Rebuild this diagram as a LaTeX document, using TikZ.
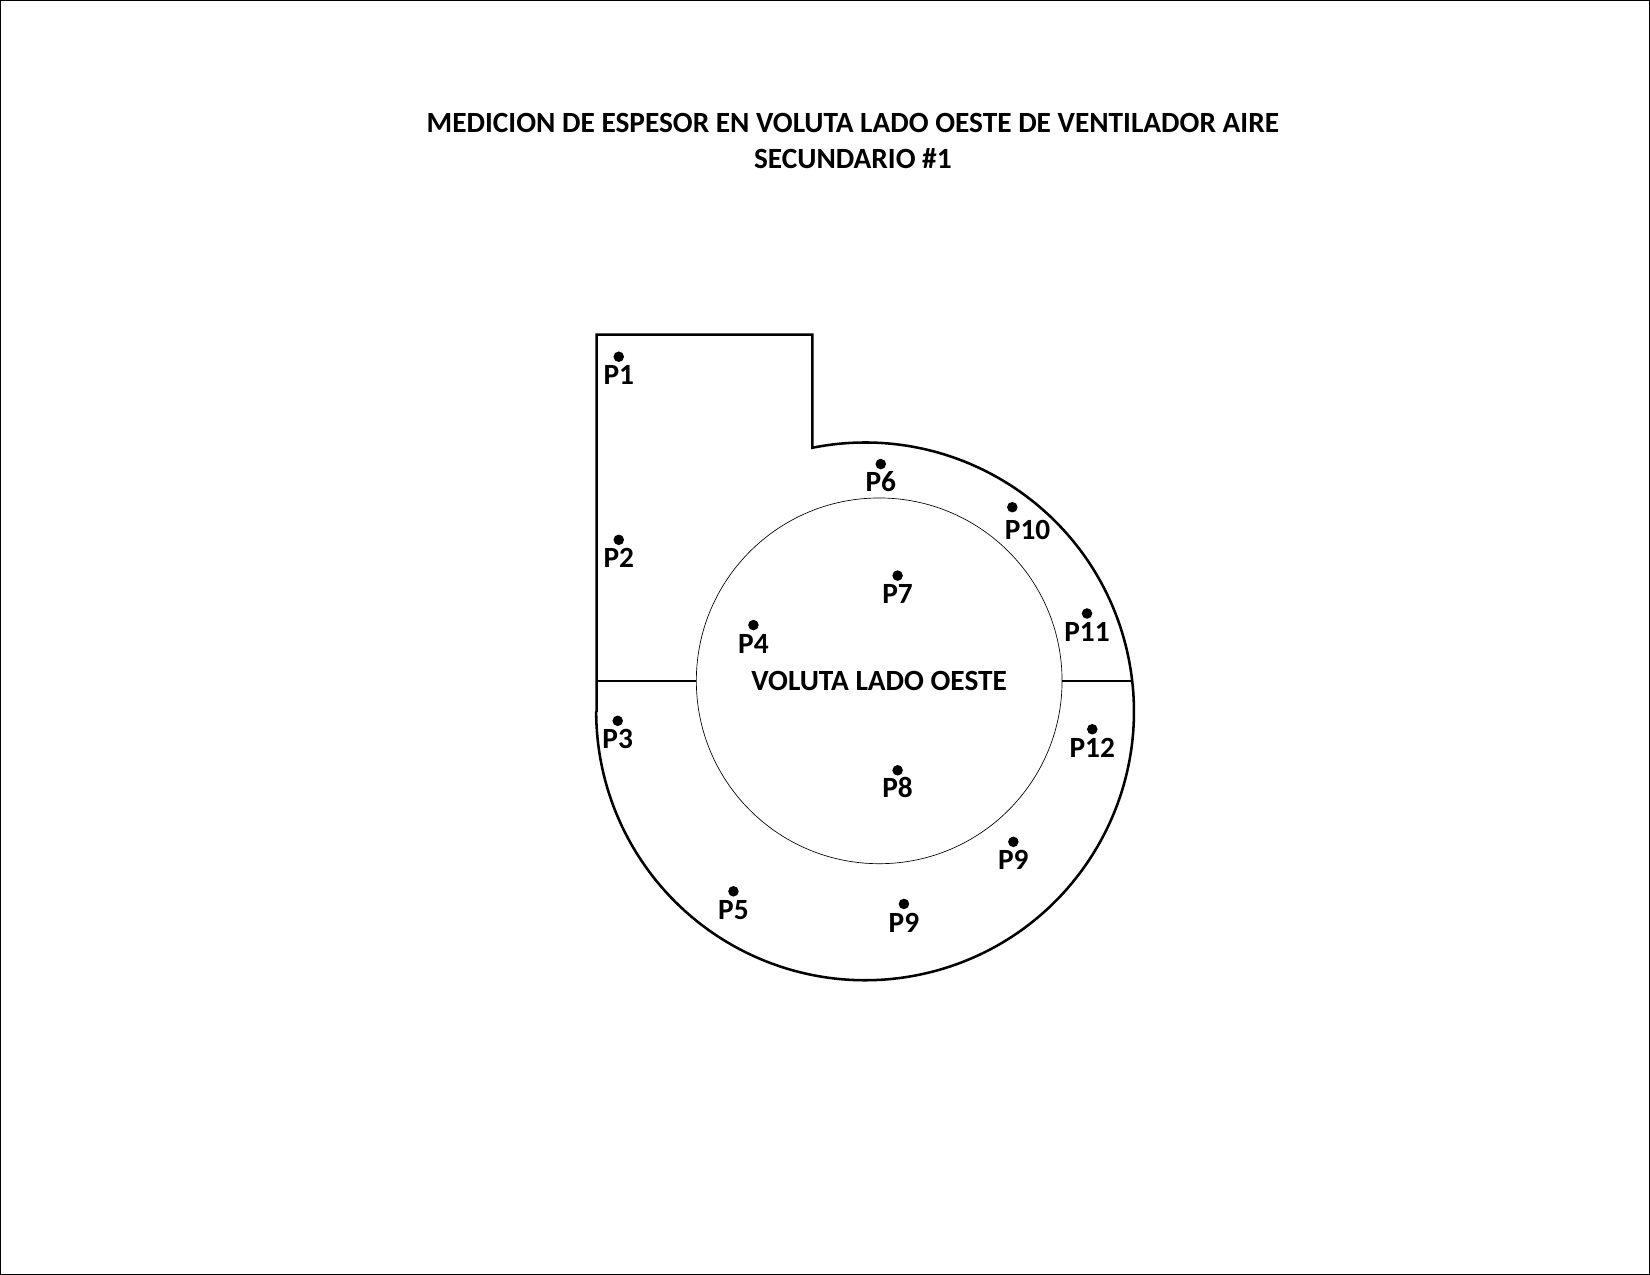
\documentclass[tikz,border=0pt]{standalone}
\usepackage{fontspec}
\setmainfont{Carlito}
\tikzset{
  outline/.style={draw=black,line width=1.9pt,line join=miter},
  divider/.style={draw=black,line width=1.1pt},
  frame/.style={draw=black,line width=1.1pt},
  hub/.style={circle,draw=black,line width=0.5pt,minimum size=274.3pt,inner sep=0pt,fill=none},
  pt/.style={circle,fill=black,inner sep=0pt,minimum size=7.9pt},
  lab/.style={anchor=base,inner sep=0pt,font=\fontsize{22pt}{24pt}\selectfont\bfseries},
}
\begin{document}
\begin{tikzpicture}[x=0.78922pt,y=-0.78922pt]
\useasboundingbox (0,0) rectangle (1568,1211.6);
\draw[frame] (0.7,0.7) rectangle (1567.3,1210.9);
\node[lab] (t1) at (810.5,126) {MEDICION DE ESPESOR EN VOLUTA LADO OESTE DE VENTILADOR AIRE};
\node[lab] (t2) at (810.5,160) {SECUNDARIO \#1};
% casing
\coordinate (cl) at (567,676.5);
\coordinate (ca) at (567,318);
\coordinate (cb) at (772,318);
\coordinate (cc) at (772,425.5);
\coordinate (dl) at (567,647);
\coordinate (dr) at (1077,647);
\draw[outline] (cl) -- (ca) -- (cb) -- (cc)
  arc[start angle=-101.3,end angle=180,radius=255.5];
% hub
\node[hub] (hub) at (835.5,647) {};
\draw[divider] (dl) -- (hub.west);
\draw[divider] (hub.east) -- (dr);
\node[lab] (voluta) at (835.5,656) {VOLUTA LADO OESTE};
% points
\node[pt] (d1) at (588,339) {};   \node[lab] (p1) at (588,365.5) {P1};
\node[pt] (d2) at (588,513) {};   \node[lab] (p2) at (588,539.5) {P2};
\node[pt] (d3) at (587,685) {};   \node[lab] (p3) at (587,711.5) {P3};
\node[pt] (d4) at (716,594) {};   \node[lab] (p4) at (716,621) {P4};
\node[pt] (d5) at (697,847) {};   \node[lab] (p5) at (697,873.5) {P5};
\node[pt] (d6) at (837,441) {};   \node[lab] (p6) at (837,467) {P6};
\node[pt] (d7) at (853,547) {};   \node[lab] (p7) at (853,573.5) {P7};
\node[pt] (d8) at (853,732) {};   \node[lab] (p8) at (853,758) {P8};
\node[pt] (d9) at (963,800) {};   \node[lab] (p9) at (963,826) {P9};
\node[pt] (d9b) at (859,859) {};  \node[lab] (p9b) at (859,886) {P9};
\node[pt] (d10) at (962,482) {};  \node[lab] (p10) at (976.5,513) {P10};
\node[pt] (d11) at (1033,583) {}; \node[lab] (p11) at (1033,609.5) {P11};
\node[pt] (d12) at (1038,693) {}; \node[lab] (p12) at (1038,719.5) {P12};
\end{tikzpicture}
\end{document}
